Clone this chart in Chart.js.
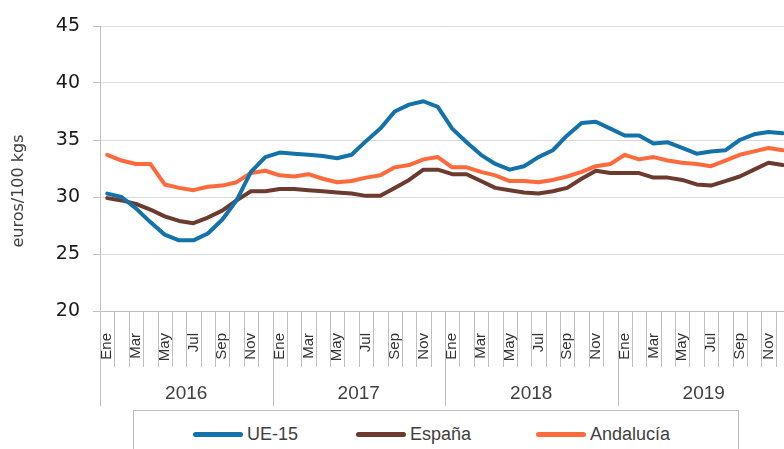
<!DOCTYPE html>
<html lang="es">
<head>
<meta charset="utf-8">
<title>Precio euros/100 kgs</title>
<script src="https://cdn.jsdelivr.net/npm/chart.js@4.4.1/dist/chart.umd.min.js"></script>
<style>
    html, body { margin: 0; padding: 0; overflow: hidden; background: #fff; }
    #wrap { position: relative; width: 790px; height: 449px; }
    #legend {
        position: absolute; left: 133px; top: 410px; width: 606px; height: 50px;
        border: 1px solid #bfbfbf; background: #fff; box-sizing: border-box;
        font: 18px "Liberation Sans", Arial, sans-serif; color: #404040;
    }
    #legend .item { position: absolute; top: 13px; height: 20px; display: flex; align-items: center; white-space: nowrap; }
    #legend .sw { width: 50px; height: 5px; border-radius: 3px; margin-right: 4px; }
</style>
</head>
<body>
<div id="wrap">
    <canvas id="chart"></canvas>
    <div id="legend"></div>
</div>
<script>
// Datos
const months = ['Ene', 'Feb', 'Mar', 'Abr', 'May', 'Jun', 'Jul', 'Ago', 'Sep', 'Oct', 'Nov', 'Dic'];
const years = ['2016', '2017', '2018', '2019'];
const yTicks = [20, 25, 30, 35, 40, 45];

const ue15 = [
    30.3, 30.0, 29.0, 27.8, 26.7, 26.2, 26.2, 26.8, 28.0, 29.7, 32.2, 33.5,
    33.9, 33.8, 33.7, 33.6, 33.4, 33.7, 34.9, 36.0, 37.5, 38.1, 38.4, 37.9,
    36.0, 34.8, 33.7, 32.9, 32.4, 32.7, 33.5, 34.1, 35.4, 36.5, 36.6, 36.0,
    35.4, 35.4, 34.7, 34.8, 34.3, 33.8, 34.0, 34.1, 35.0, 35.5, 35.7, 35.6
];
const espana = [
    29.9, 29.7, 29.4, 28.9, 28.3, 27.9, 27.7, 28.2, 28.8, 29.7, 30.5, 30.5,
    30.7, 30.7, 30.6, 30.5, 30.4, 30.3, 30.1, 30.1, 30.8, 31.5, 32.4, 32.4,
    32.0, 32.0, 31.4, 30.8, 30.6, 30.4, 30.3, 30.5, 30.8, 31.6, 32.3, 32.1,
    32.1, 32.1, 31.7, 31.7, 31.5, 31.1, 31.0, 31.4, 31.8, 32.4, 33.0, 32.8
];
const andalucia = [
    33.7, 33.2, 32.9, 32.9, 31.1, 30.8, 30.6, 30.9, 31.0, 31.3, 32.1, 32.3,
    31.9, 31.8, 32.0, 31.6, 31.3, 31.4, 31.7, 31.9, 32.6, 32.8, 33.3, 33.5,
    32.6, 32.6, 32.2, 31.9, 31.4, 31.4, 31.3, 31.5, 31.8, 32.2, 32.7, 32.9,
    33.7, 33.3, 33.5, 33.2, 33.0, 32.9, 32.7, 33.2, 33.7, 34.0, 34.3, 34.1
];

const seriesNames = ['UE-15', 'España', 'Andalucía'];
const seriesColors = ['#1272A9', '#6D3A2F', '#FF6A3D'];
const seriesData = [ue15, espana, andalucia];
const legendLeft = [59, 222, 402]; // posición de cada entrada dentro del recuadro

// Etiquetas: mes por cada año
const labels = [];
years.forEach(y => months.forEach(m => labels.push(m + ' ' + y)));

// Plugin: separadores de meses/años, etiquetas de año y título del eje Y
const categoryAxisPlugin = {
    id: 'categoryAxis',
    afterDraw(chart) {
        const ctx = chart.ctx;
        const xs = chart.scales.x;
        const top = xs.top;
        const half = (xs.getPixelForValue(1) - xs.getPixelForValue(0)) / 2;
        const boundary = i => (i < labels.length ? xs.getPixelForValue(i) - half : xs.getPixelForValue(labels.length - 1) + half);

        ctx.save();
        ctx.strokeStyle = '#bfbfbf';
        ctx.lineWidth = 1;
        for (let i = 0; i <= labels.length; i++) {
            const x = Math.round(boundary(i)) + 0.5;
            ctx.beginPath();
            ctx.moveTo(x, top);
            ctx.lineTo(x, i % 12 === 0 ? 406 : 367);
            ctx.stroke();
        }

        ctx.fillStyle = '#404040';
        ctx.font = '19px "Liberation Sans", Arial, sans-serif';
        ctx.textAlign = 'center';
        ctx.textBaseline = 'middle';
        years.forEach((y, k) => {
            const cx = (boundary(k * 12) + boundary(k * 12 + 12)) / 2;
            ctx.fillText(y, cx, 394);
        });

        // Título eje Y
        ctx.translate(19, 191);
        ctx.rotate(-Math.PI / 2);
        ctx.font = '16px "DejaVu Sans", sans-serif';
        ctx.fillStyle = '#404040';
        ctx.fillText('euros/100 kgs', 0, 0);
        ctx.restore();
    }
};

const ctx = document.getElementById('chart').getContext('2d');
new Chart(ctx, {
    type: 'line',
    data: {
        labels: labels,
        datasets: seriesNames.map((name, i) => ({
            label: name,
            data: seriesData[i],
            borderColor: seriesColors[i],
            backgroundColor: seriesColors[i],
            borderWidth: 4,
            pointRadius: 0,
            tension: 0,
            borderJoinStyle: 'round',
            borderCapStyle: 'round'
        }))
    },
    options: {
        responsive: true,
        maintainAspectRatio: false,
        animation: false,
        layout: { padding: { top: 26, left: 0, right: 0, bottom: 0 } },
        plugins: {
            legend: { display: false },
            tooltip: { enabled: false }
        },
        scales: {
            x: {
                offset: true,
                grid: { display: false },
                border: { display: true, color: '#bfbfbf' },
                ticks: {
                    autoSkip: false,
                    minRotation: 90,
                    maxRotation: 90,
                    padding: 14,
                    color: '#333333',
                    font: { family: '"Liberation Sans", Arial, sans-serif', size: 15 },
                    callback: (v, i) => (i % 2 === 0 ? months[i % 12] : '')
                },
                afterFit: s => { s.height = 138; s.paddingLeft = 0; s.paddingRight = 0; }
            },
            y: {
                min: yTicks[0],
                max: yTicks[yTicks.length - 1],
                afterBuildTicks: s => { s.ticks = yTicks.map(v => ({ value: v })); },
                grid: { color: '#d9d9d9', tickLength: 7, tickColor: '#bfbfbf' },
                border: { display: true, color: '#bfbfbf' },
                ticks: {
                    padding: 13,
                    color: '#1a1a1a',
                    font: { family: '"DejaVu Sans", sans-serif', size: 19 }
                },
                afterFit: s => { s.width = 100; }
            }
        }
    },
    plugins: [categoryAxisPlugin]
});

// Leyenda HTML
const legendBox = document.getElementById('legend');
seriesNames.forEach((name, i) => {
    const item = document.createElement('div');
    item.className = 'item';
    item.style.left = legendLeft[i] + 'px';
    const sw = document.createElement('span');
    sw.className = 'sw';
    sw.style.background = seriesColors[i];
    const txt = document.createElement('span');
    txt.textContent = name;
    item.appendChild(sw);
    item.appendChild(txt);
    legendBox.appendChild(item);
});
</script>
</body>
</html>
